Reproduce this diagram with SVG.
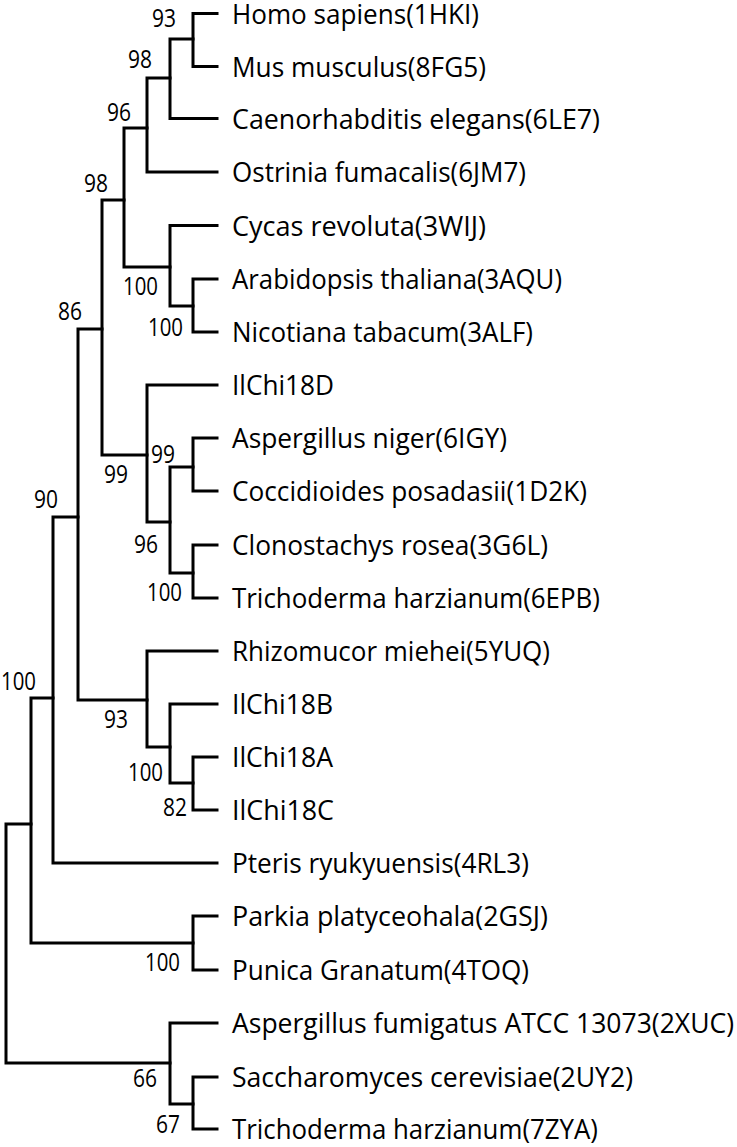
<svg xmlns="http://www.w3.org/2000/svg" width="737" height="1147" viewBox="0 0 737 1147">
<style>
.br{fill:none;stroke:#000;stroke-width:3;stroke-linecap:square;stroke-linejoin:miter}
.lf{font-family:"Open Sans","Noto Sans",sans-serif;font-size:28px;fill:#000}
.bs{font-family:"Open Sans","Noto Sans",sans-serif;font-size:25px;fill:#000;text-anchor:end}
</style>
<rect width="737" height="1147" fill="#fff"/>
<g id="connectors">
<path class="br" d="M193,39 V13.5 H217 M193,39 V66.5 H217"/>
<path class="br" d="M170,78 V39 H193 M170,78 V118.5 H217"/>
<path class="br" d="M147,128 V78 H170 M147,128 V172 H217"/>
<path class="br" d="M193,306 V279 H217 M193,306 V332 H217"/>
<path class="br" d="M170,267 V225.5 H217 M170,267 V306 H193"/>
<path class="br" d="M124,200 V128 H147 M124,200 V267 H170"/>
<path class="br" d="M193,467 V438 H217 M193,467 V491 H217"/>
<path class="br" d="M193,573 V545 H217 M193,573 V598 H217"/>
<path class="br" d="M170,522 V467 H193 M170,522 V573 H193"/>
<path class="br" d="M147,455 V385 H217 M147,455 V522 H170"/>
<path class="br" d="M102,329 V200 H124 M102,329 V455 H147"/>
<path class="br" d="M193,783 V757 H217 M193,783 V810 H217"/>
<path class="br" d="M170,747 V704 H217 M170,747 V783 H193"/>
<path class="br" d="M147,700 V651 H217 M147,700 V747 H170"/>
<path class="br" d="M78,517 V329 H102 M78,517 V700 H147"/>
<path class="br" d="M53,698 V517 H78 M53,698 V863 H217"/>
<path class="br" d="M193,943 V916 H217 M193,943 V970 H217"/>
<path class="br" d="M31,824 V698 H53 M31,824 V943 H193"/>
<path class="br" d="M193,1104 V1077 H217 M193,1104 V1129 H217"/>
<path class="br" d="M170,1063 V1023 H217 M170,1063 V1104 H193"/>
<path class="br" d="M6,943 V824 H31 M6,943 V1063 H170"/>
</g>
<g id="leaf-homo-sapiens"><text class="lf" x="232" y="23.5" textLength="247" lengthAdjust="spacingAndGlyphs">Homo sapiens(1HKI)</text></g>
<g id="leaf-mus-musculus"><text class="lf" x="232" y="76.5" textLength="254" lengthAdjust="spacingAndGlyphs">Mus musculus(8FG5)</text></g>
<g id="leaf-caenorhabditis"><text class="lf" x="232" y="128.5" textLength="368" lengthAdjust="spacingAndGlyphs">Caenorhabditis elegans(6LE7)</text></g>
<g id="leaf-ostrinia"><text class="lf" x="232" y="182" textLength="294" lengthAdjust="spacingAndGlyphs">Ostrinia fumacalis(6JM7)</text></g>
<g id="leaf-cycas"><text class="lf" x="232" y="235.5" textLength="254" lengthAdjust="spacingAndGlyphs">Cycas revoluta(3WIJ)</text></g>
<g id="leaf-arabidopsis"><text class="lf" x="232" y="289" textLength="330" lengthAdjust="spacingAndGlyphs">Arabidopsis thaliana(3AQU)</text></g>
<g id="leaf-nicotiana"><text class="lf" x="232" y="342" textLength="301" lengthAdjust="spacingAndGlyphs">Nicotiana tabacum(3ALF)</text></g>
<g id="leaf-ilchi18d"><text class="lf" x="232" y="395" textLength="102" lengthAdjust="spacingAndGlyphs">IlChi18D</text></g>
<g id="leaf-aspergillus-niger"><text class="lf" x="232" y="448" textLength="275" lengthAdjust="spacingAndGlyphs">Aspergillus niger(6IGY)</text></g>
<g id="leaf-coccidioides"><text class="lf" x="232" y="501" textLength="355" lengthAdjust="spacingAndGlyphs">Coccidioides posadasii(1D2K)</text></g>
<g id="leaf-clonostachys"><text class="lf" x="232" y="555" textLength="316" lengthAdjust="spacingAndGlyphs">Clonostachys rosea(3G6L)</text></g>
<g id="leaf-trichoderma-6epb"><text class="lf" x="232" y="608" textLength="368" lengthAdjust="spacingAndGlyphs">Trichoderma harzianum(6EPB)</text></g>
<g id="leaf-rhizomucor"><text class="lf" x="232" y="661" textLength="318" lengthAdjust="spacingAndGlyphs">Rhizomucor miehei(5YUQ)</text></g>
<g id="leaf-ilchi18b"><text class="lf" x="232" y="714" textLength="101" lengthAdjust="spacingAndGlyphs">IlChi18B</text></g>
<g id="leaf-ilchi18a"><text class="lf" x="232" y="767" textLength="101" lengthAdjust="spacingAndGlyphs">IlChi18A</text></g>
<g id="leaf-ilchi18c"><text class="lf" x="232" y="820" textLength="102" lengthAdjust="spacingAndGlyphs">IlChi18C</text></g>
<g id="leaf-pteris"><text class="lf" x="232" y="873" textLength="297" lengthAdjust="spacingAndGlyphs">Pteris ryukyuensis(4RL3)</text></g>
<g id="leaf-parkia"><text class="lf" x="232" y="926" textLength="316" lengthAdjust="spacingAndGlyphs">Parkia platyceohala(2GSJ)</text></g>
<g id="leaf-punica"><text class="lf" x="232" y="980" textLength="297" lengthAdjust="spacingAndGlyphs">Punica Granatum(4TOQ)</text></g>
<g id="leaf-aspergillus-fumigatus"><text class="lf" x="232" y="1033" textLength="502" lengthAdjust="spacingAndGlyphs">Aspergillus fumigatus ATCC 13073(2XUC)</text></g>
<g id="leaf-saccharomyces"><text class="lf" x="232" y="1087" textLength="401" lengthAdjust="spacingAndGlyphs">Saccharomyces cerevisiae(2UY2)</text></g>
<g id="leaf-trichoderma-7zya"><text class="lf" x="232" y="1139" textLength="366" lengthAdjust="spacingAndGlyphs">Trichoderma harzianum(7ZYA)</text></g>
<g id="node-n1"><text class="bs" x="176" y="27" textLength="24" lengthAdjust="spacingAndGlyphs">93</text></g>
<g id="node-n2"><text class="bs" x="152" y="68" textLength="24" lengthAdjust="spacingAndGlyphs">98</text></g>
<g id="node-n3"><text class="bs" x="131" y="121" textLength="24" lengthAdjust="spacingAndGlyphs">96</text></g>
<g id="node-n6"><text class="bs" x="108" y="192" textLength="24" lengthAdjust="spacingAndGlyphs">98</text></g>
<g id="node-n5"><text class="bs" x="158" y="295" textLength="35" lengthAdjust="spacingAndGlyphs">100</text></g>
<g id="node-n4"><text class="bs" x="183" y="336" textLength="35" lengthAdjust="spacingAndGlyphs">100</text></g>
<g id="node-n11"><text class="bs" x="82" y="320" textLength="24" lengthAdjust="spacingAndGlyphs">86</text></g>
<g id="node-n7"><text class="bs" x="175" y="463" textLength="24" lengthAdjust="spacingAndGlyphs">99</text></g>
<g id="node-n10"><text class="bs" x="128" y="483" textLength="24" lengthAdjust="spacingAndGlyphs">99</text></g>
<g id="node-n9"><text class="bs" x="158" y="553" textLength="24" lengthAdjust="spacingAndGlyphs">96</text></g>
<g id="node-n8"><text class="bs" x="182" y="601" textLength="35" lengthAdjust="spacingAndGlyphs">100</text></g>
<g id="node-n15"><text class="bs" x="58" y="508" textLength="24" lengthAdjust="spacingAndGlyphs">90</text></g>
<g id="node-n16"><text class="bs" x="36" y="690" textLength="35" lengthAdjust="spacingAndGlyphs">100</text></g>
<g id="node-n14"><text class="bs" x="128" y="728" textLength="24" lengthAdjust="spacingAndGlyphs">93</text></g>
<g id="node-n13"><text class="bs" x="163" y="781" textLength="35" lengthAdjust="spacingAndGlyphs">100</text></g>
<g id="node-n12"><text class="bs" x="187" y="816" textLength="24" lengthAdjust="spacingAndGlyphs">82</text></g>
<g id="node-n17"><text class="bs" x="180" y="971" textLength="35" lengthAdjust="spacingAndGlyphs">100</text></g>
<g id="node-n20"><text class="bs" x="157" y="1087" textLength="24" lengthAdjust="spacingAndGlyphs">66</text></g>
<g id="node-n19"><text class="bs" x="180" y="1133" textLength="24" lengthAdjust="spacingAndGlyphs">67</text></g>
</svg>
